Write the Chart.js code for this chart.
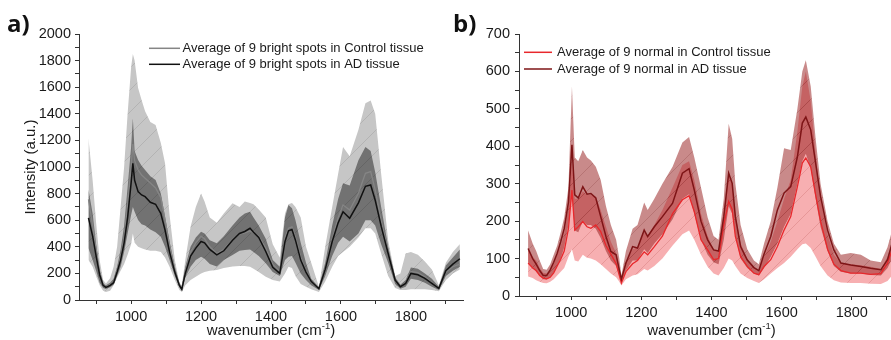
<!DOCTYPE html>
<html>
<head>
<meta charset="utf-8">
<script src="https://cdn.jsdelivr.net/npm/chart.js@4.4.0/dist/chart.umd.min.js"></script>
<style>
    body { margin: 0; background: #fff; width: 891px; height: 340px; position: relative; overflow: hidden; }
    .panel { position: absolute; top: 0; height: 340px; }
    #panelA { left: 0; width: 470px; }
    #panelB { left: 470px; width: 441px; }
    .tag { position: absolute; font: bold 24px "Open Sans", sans-serif; line-height: 24px; color: #111; z-index: 2; }
</style>
</head>
<body>
<div class="tag" style="left:7px;top:11px">a)</div>
<div class="tag" style="left:453px;top:11px">b)</div>
<div class="panel" id="panelA"><canvas id="chartA" width="470" height="340"></canvas></div>
<div class="panel" id="panelB"><canvas id="chartB" width="441" height="340"></canvas></div>
<script>
// ---- panel a) bright spots ----
const leftWave = [878, 890, 900, 910, 920, 928, 940, 950, 960, 970,
    980, 990, 1000, 1005, 1010, 1020, 1030, 1040, 1055, 1070,
    1085, 1097, 1110, 1125, 1138, 1145, 1155, 1170, 1185, 1200,
    1210, 1225, 1245, 1265, 1290, 1310, 1325, 1340, 1350, 1365,
    1385, 1405, 1425, 1440, 1450, 1460, 1470, 1485, 1500, 1515,
    1537, 1555, 1575, 1592, 1606, 1625, 1650, 1670, 1685, 1698,
    1715, 1735, 1755, 1770, 1785, 1800, 1820, 1840, 1860, 1880,
    1900, 1920, 1940];
const leftCtrlMean = [757, 560, 380, 210, 120, 100, 115, 140, 230, 320,
    470, 720, 1000, 1173, 1050, 977, 940, 915, 880, 842,
    770, 601, 410, 230, 115, 85, 220, 360, 430, 480,
    460, 400, 350, 380, 455, 495, 505, 520, 505, 480,
    390, 270, 215, 470, 540, 550, 470, 320, 220, 145,
    88, 240, 460, 620, 714, 677, 802, 952, 965, 827,
    600, 370, 160, 105, 130, 215, 205, 175, 130, 90,
    210, 250, 270];
const leftAdMean = [617, 480, 330, 190, 110, 95, 110, 130, 210, 300,
    430, 620, 880, 1028, 900, 815, 790, 777, 735, 720,
    650, 526, 360, 210, 110, 80, 200, 330, 390, 440,
    430, 380, 340, 370, 450, 500, 515, 539, 510, 470,
    365, 245, 200, 440, 520, 530, 450, 300, 210, 140,
    85, 230, 440, 580, 664, 615, 730, 855, 865, 750,
    555, 350, 150, 100, 125, 200, 190, 163, 125, 88,
    220, 270, 310];
const leftCtrlHigh = [1216, 900, 580, 300, 150, 125, 163, 250, 400, 700,
    1000, 1400, 1750, 1850, 1800, 1594, 1504, 1420, 1338, 1316,
    1180, 1028, 640, 300, 130, 110, 300, 550, 700, 800,
    740, 620, 580, 650, 727, 700, 740, 730, 720, 680,
    620, 420, 320, 650, 720, 730, 700, 620, 400, 280,
    100, 400, 700, 950, 1150, 1080, 1280, 1480, 1500, 1400,
    950, 450, 180, 200, 350, 360, 340, 290, 230, 110,
    280, 360, 420];
const leftCtrlLow = [300, 250, 180, 110, 70, 60, 70, 110, 170, 220,
    270, 340, 420, 500, 430, 400, 390, 380, 370, 370,
    360, 320, 250, 150, 75, 60, 110, 150, 175, 200,
    210, 220, 226, 240, 251, 255, 255, 250, 235, 210,
    175, 150, 140, 200, 250, 240, 180, 120, 100, 80,
    60, 140, 250, 330, 360, 400, 470, 540, 540, 500,
    350, 180, 90, 75, 75, 80, 80, 80, 75, 65,
    150, 200, 230];
const leftAdHigh = [830, 650, 420, 230, 125, 110, 130, 160, 250, 380,
    560, 850, 1150, 1366, 1120, 1053, 1010, 977, 930, 902,
    800, 627, 440, 250, 125, 95, 250, 400, 470, 514,
    500, 450, 426, 480, 560, 620, 650, 664, 620, 560,
    460, 301, 250, 620, 714, 690, 600, 430, 280, 160,
    95, 280, 560, 760, 877, 860, 1050, 1150, 1120, 960,
    700, 400, 170, 115, 150, 245, 235, 200, 160, 100,
    260, 320, 380];
const leftAdLow = [390, 300, 220, 130, 90, 82, 95, 115, 180, 250,
    360, 500, 640, 700, 664, 601, 570, 560, 530, 510,
    476, 400, 300, 180, 95, 70, 170, 250, 300, 326,
    310, 270, 251, 300, 338, 370, 376, 380, 360, 330,
    276, 210, 180, 300, 326, 330, 280, 200, 150, 110,
    75, 180, 330, 430, 476, 440, 500, 600, 600, 560,
    420, 280, 120, 85, 100, 160, 150, 130, 100, 75,
    180, 220, 250];

// ---- panel b) normal areas ----
const rightWave = [877, 890, 900, 910, 920, 930, 940, 950, 960, 970,
    980, 992, 1002, 1010, 1020, 1033, 1045, 1056, 1070, 1084,
    1099, 1113, 1128, 1137, 1143, 1156, 1175, 1189, 1208, 1218,
    1237, 1260, 1289, 1317, 1336, 1351, 1370, 1389, 1406, 1420,
    1435, 1449, 1459, 1468, 1483, 1502, 1521, 1535, 1550, 1569,
    1588, 1607, 1626, 1645, 1659, 1669, 1683, 1697, 1711, 1731,
    1749, 1769, 1797, 1826, 1854, 1883, 1902, 1915];
const rightCtrlMean = [88, 75, 68, 55, 48, 46, 50, 62, 80, 98,
    120, 180, 283, 176, 185, 199, 185, 181, 190, 172,
    135, 112, 86, 55, 35, 65, 86, 95, 118, 110,
    132, 160, 220, 257, 268, 225, 150, 123, 97, 100,
    190, 253, 231, 159, 105, 79, 61, 57, 79, 97,
    132, 176, 212, 292, 355, 369, 345, 270, 200, 125,
    85, 68, 61, 61, 58, 60, 88, 123];
const rightAdMean = [127, 100, 85, 68, 55, 55, 70, 90, 114, 145,
    180, 250, 404, 270, 262, 292, 272, 274, 262, 212,
    159, 119, 110, 70, 45, 88, 132, 128, 176, 159,
    185, 212, 248, 328, 340, 283, 200, 150, 123, 120,
    212, 328, 301, 212, 132, 96, 76, 68, 112, 159,
    230, 275, 292, 372, 462, 478, 444, 355, 266, 176,
    123, 88, 83, 79, 74, 70, 97, 141];
const rightCtrlHigh = [125, 105, 95, 75, 62, 60, 70, 85, 110, 135,
    165, 240, 360, 260, 260, 280, 270, 270, 265, 230,
    185, 145, 115, 75, 45, 90, 125, 130, 170, 160,
    190, 230, 290, 350, 360, 310, 220, 160, 125, 120,
    210, 330, 300, 220, 140, 100, 78, 68, 105, 145,
    200, 260, 310, 440, 560, 600, 520, 380, 260, 165,
    110, 88, 85, 82, 78, 72, 105, 140];
const rightCtrlLow = [52, 48, 42, 38, 35, 34, 38, 45, 55, 65,
    75, 105, 125, 95, 92, 110, 102, 100, 95, 85,
    72, 60, 50, 38, 28, 45, 55, 58, 72, 68,
    80, 100, 135, 165, 175, 150, 110, 78, 60, 55,
    75, 100, 95, 80, 60, 48, 40, 35, 45, 60,
    75, 88, 105, 125, 138, 140, 128, 105, 80, 55,
    42, 36, 35, 35, 33, 32, 40, 55];
const rightAdHigh = [175, 140, 120, 95, 72, 70, 85, 110, 135, 170,
    210, 290, 560, 370, 360, 390, 370, 362, 345, 310,
    240, 190, 150, 100, 55, 120, 180, 190, 250, 230,
    260, 300, 345, 410, 425, 370, 290, 210, 160, 150,
    260, 460, 420, 300, 190, 125, 95, 85, 140, 200,
    290, 395, 390, 500, 600, 630, 560, 420, 300, 200,
    140, 110, 115, 110, 95, 90, 130, 175];
const rightAdLow = [90, 75, 65, 55, 45, 44, 50, 62, 80, 100,
    130, 190, 270, 175, 170, 200, 190, 190, 180, 155,
    120, 95, 80, 55, 36, 68, 95, 95, 125, 115,
    140, 165, 205, 260, 272, 220, 150, 110, 90, 85,
    150, 240, 220, 160, 100, 75, 60, 55, 75, 105,
    140, 185, 220, 300, 360, 380, 340, 260, 185, 120,
    80, 65, 60, 60, 56, 55, 75, 100];

// ticks every 100 cm-1, labels every 200
const xTickValues = [900, 1000, 1100, 1200, 1300, 1400, 1500, 1600, 1700, 1800, 1900];
const leftYTickValues = [0, 100, 200, 300, 400, 500, 600, 700, 800, 900, 1000,
    1100, 1200, 1300, 1400, 1500, 1600, 1700, 1800, 1900, 2000];
const rightYTickValues = [0, 50, 100, 150, 200, 250, 300, 350, 400, 450, 500, 550, 600, 650, 700];

const FONT = '"Liberation Sans", Arial, sans-serif';
const INK = '#1a1a1a';

function series(xs, ys) {
    return xs.map((x, i) => ({ x: x, y: ys[i] }));
}

// band fill with the faint diagonal hatching of the original
function hatch(base, lineColor) {
    const c = document.createElement('canvas');
    c.width = 22; c.height = 22;
    const g = c.getContext('2d');
    g.fillStyle = base;
    g.fillRect(0, 0, 22, 22);
    g.strokeStyle = lineColor;
    g.lineWidth = 0.7;
    g.beginPath();
    g.moveTo(-1, 23); g.lineTo(23, -1);
    g.stroke();
    return g.createPattern(c, 'repeat');
}

function meanLine(label, xs, ys, color, width, order) {
    return { label: label, data: series(xs, ys), borderColor: color, borderWidth: width,
        fill: false, order: order, inLegend: true };
}

// upper edge fills down to the next dataset (the lower edge)
function band(xs, hi, lo, fillStyle, order) {
    return [
        { data: series(xs, hi), borderColor: 'rgba(0,0,0,0)', borderWidth: 0, backgroundColor: fillStyle, fill: '+1', order: order },
        { data: series(xs, lo), borderColor: 'rgba(0,0,0,0)', borderWidth: 0, fill: false, order: order }
    ];
}

const cornerLegend = {
    id: 'cornerLegend',
    afterDraw(chart, args, opts) {
        const ctx = chart.ctx;
        const items = chart.data.datasets.filter(d => d.inLegend);
        ctx.save();
        ctx.font = '13px ' + FONT;
        ctx.textBaseline = 'middle';
        items.forEach((d, i) => {
            const y = opts.y + i * opts.gap;
            ctx.strokeStyle = d.borderColor;
            ctx.lineWidth = 1.5;
            ctx.beginPath();
            ctx.moveTo(opts.x, y);
            ctx.lineTo(opts.x + opts.len, y);
            ctx.stroke();
            ctx.fillStyle = INK;
            ctx.fillText(d.label, opts.x + opts.len + opts.pad, y);
        });
        ctx.restore();
    }
};

// x title with a superscript
const xTitle = {
    id: 'xTitle',
    afterDraw(chart, args, opts) {
        const ctx = chart.ctx;
        const area = chart.chartArea;
        ctx.save();
        ctx.fillStyle = INK;
        ctx.textBaseline = 'alphabetic';
        const big = '15px ' + FONT, small = '9.5px ' + FONT;
        ctx.font = big;
        const w1 = ctx.measureText(opts.main).width;
        const w3 = ctx.measureText(opts.tail).width;
        ctx.font = small;
        const w2 = ctx.measureText(opts.sup).width;
        let x = (area.left + area.right) / 2 - (w1 + w2 + w3) / 2;
        ctx.font = big;
        ctx.fillText(opts.main, x, opts.y);
        x += w1;
        ctx.font = small;
        ctx.fillText(opts.sup, x, opts.y - 6);
        x += w2;
        ctx.font = big;
        ctx.fillText(opts.tail, x, opts.y);
        ctx.restore();
    }
};

function buildPanel(canvasId, datasets, cfg) {
    const tickFont = { family: FONT, size: 14.5 };
    const axisGrid = { drawOnChartArea: false, drawTicks: true, tickLength: 4, tickColor: '#333', tickWidth: 1 };
    const axisBorder = { display: true, color: '#333', width: 1 };
    return new Chart(document.getElementById(canvasId), {
        type: 'line',
        data: { datasets: datasets },
        options: {
            responsive: false,
            animation: false,
            devicePixelRatio: 1,
            layout: { padding: { top: 34, right: 7, bottom: 0, left: 0 } },
            elements: { point: { radius: 0 }, line: { tension: 0 } },
            plugins: {
                legend: { display: false },
                tooltip: { enabled: false },
                cornerLegend: cfg.legend,
                xTitle: { main: 'wavenumber (cm', sup: '-1', tail: ')', y: 335 }
            },
            scales: {
                x: {
                    type: 'linear', min: 851, max: 1949,
                    afterBuildTicks: s => { s.ticks = xTickValues.map(v => ({ value: v })); },
                    afterFit: s => { s.height = cfg.xHeight; },
                    ticks: { autoSkip: false, maxRotation: 0, padding: 4, font: tickFont, color: INK,
                        callback: v => (v % 200 === 0 ? v : '') },
                    grid: axisGrid,
                    border: axisBorder
                },
                y: {
                    min: 0, max: cfg.yMax,
                    afterBuildTicks: s => { s.ticks = cfg.yTicks.map(v => ({ value: v })); },
                    afterFit: s => { s.width = cfg.yWidth; },
                    ticks: { autoSkip: false, padding: cfg.yPad, font: tickFont, color: INK,
                        callback: v => (v % cfg.yLabelStep === 0 ? v : '') },
                    title: cfg.yTitle,
                    grid: axisGrid,
                    border: axisBorder
                }
            }
        },
        plugins: [cornerLegend, xTitle]
    });
}

const leftSets = [
    meanLine('Average of 9 bright spots in Control tissue', leftWave, leftCtrlMean, '#858585', 1.3, 1),
    meanLine('Average of 9 bright spots in AD tissue', leftWave, leftAdMean, '#111111', 1.5, 0),
    ...band(leftWave, leftCtrlHigh, leftCtrlLow, hatch('#c6c6c6', 'rgba(120,120,120,0.35)'), 3),
    ...band(leftWave, leftAdHigh, leftAdLow, hatch('#727272', 'rgba(60,60,60,0.35)'), 2)
];

const rightSets = [
    meanLine('Average of 9 normal in Control tissue', rightWave, rightCtrlMean, '#e8282c', 1.3, 1),
    meanLine('Average of 9 normal in AD tissue', rightWave, rightAdMean, '#7e1416', 1.5, 0),
    ...band(rightWave, rightCtrlHigh, rightCtrlLow, hatch('rgba(240, 95, 100, 0.5)', 'rgba(170, 60, 60, 0.3)'), 3),
    ...band(rightWave, rightAdHigh, rightAdLow, hatch('rgba(147, 21, 21, 0.5)', 'rgba(90, 10, 10, 0.25)'), 2)
];

buildPanel('chartA', leftSets, {
    yMax: 2000, yTicks: leftYTickValues, yLabelStep: 200, yWidth: 79, yPad: 4, xHeight: 40,
    yTitle: { display: true, text: 'Intensity (a.u.)', color: INK, font: { family: FONT, size: 15 }, padding: { top: 22, bottom: 0 } },
    legend: { x: 149, y: 48.3, gap: 16, len: 31, pad: 2.5 }
});

buildPanel('chartB', rightSets, {
    yMax: 700, yTicks: rightYTickValues, yLabelStep: 100, yWidth: 49, yPad: 5, xHeight: 44,
    yTitle: { display: false },
    legend: { x: 54, y: 52.3, gap: 16.7, len: 28, pad: 5 }
});
</script>
</body>
</html>
